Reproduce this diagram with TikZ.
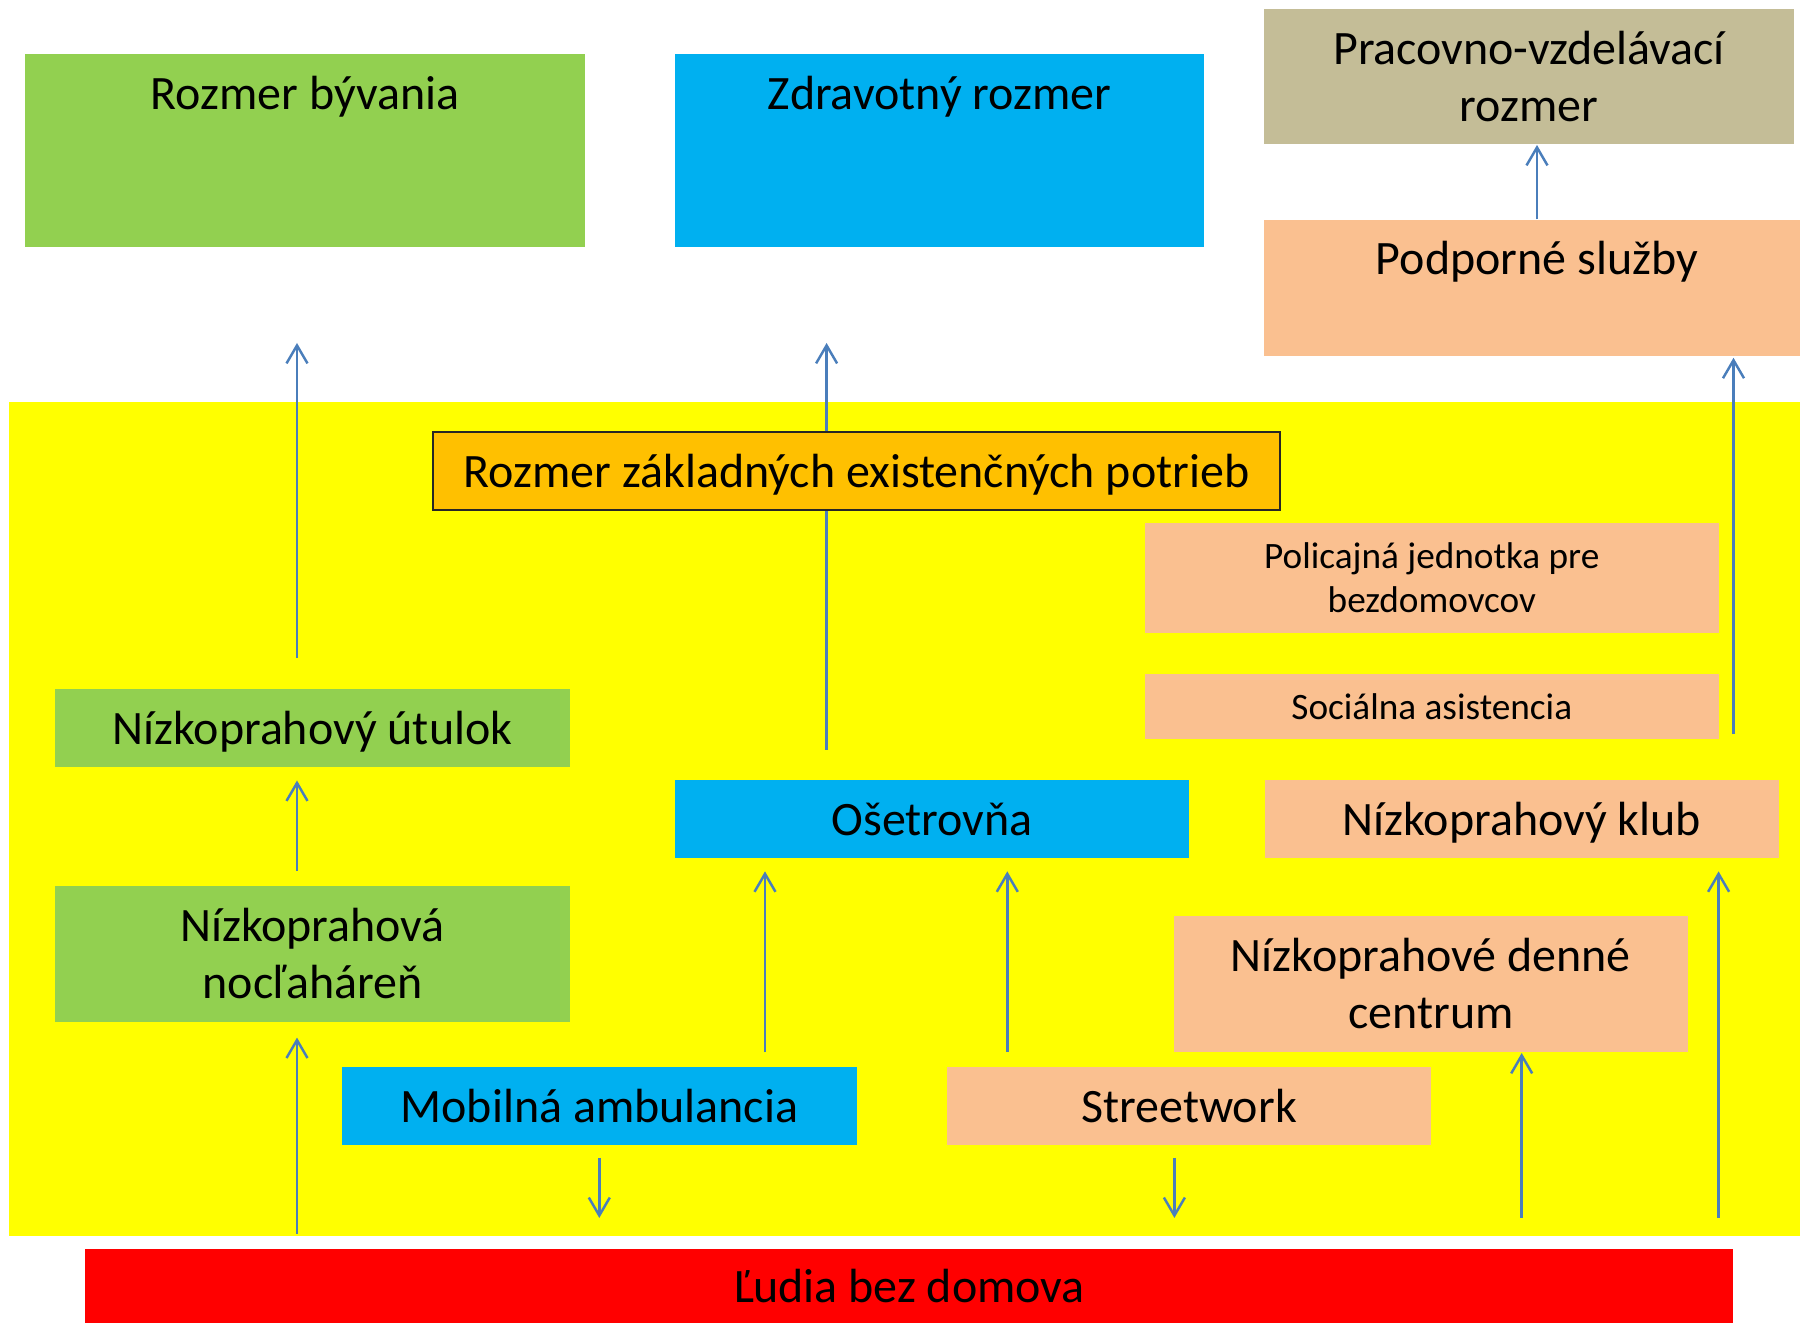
\documentclass[tikz,border=0pt]{standalone}
\usepackage{fontspec}
\setmainfont{Carlito}
\usetikzlibrary{arrows.meta}
\definecolor{grn}{RGB}{146,208,80}
\definecolor{blu}{RGB}{0,176,240}
\definecolor{tan}{RGB}{196,189,151}
\definecolor{peach}{RGB}{250,192,144}
\definecolor{yel}{RGB}{255,255,0}
\definecolor{amber}{RGB}{255,192,0}
\definecolor{rd}{RGB}{255,0,0}
\definecolor{flowblue}{RGB}{74,126,187}
\begin{document}
\begin{tikzpicture}[->,>={Straight Barb[length=1.8mm,width=2.1mm]}]
	\def \toprow{11.723}
	\def \careRow{5.042}
	\def \streetRow{2.172}
	\tikzstyle{g-box}=[rectangle,fill=grn,inner sep=0pt,font=\fontsize{13.65}{16.2}\selectfont]
	\tikzstyle{b-box}=[rectangle,fill=blu,inner sep=0pt,font=\fontsize{13.65}{16.2}\selectfont]
	\tikzstyle{p-box}=[rectangle,fill=peach,inner sep=0pt,font=\fontsize{13.65}{16.2}\selectfont]
	\tikzstyle{p-box-small}=[rectangle,fill=peach,inner sep=0pt,font=\fontsize{10.6}{12.4}\selectfont]
	\tikzstyle{one-line}=[text height=0.48cm,text depth=0.15cm]
	\tikzstyle{one-line-small}=[text height=0.37cm,text depth=0.11cm]
	\tikzstyle{flow}=[color=flowblue,line width=0.7pt]
	\useasboundingbox (0,0) rectangle (18,13.23);
	\fill[yel] (0.09,0.87) rectangle (18,9.21);

	% dimensions
	\node[g-box,minimum width=5.6cm,text height=0.554cm,text depth=1.381cm] 	(byv)	at (3.05,\toprow)	{Rozmer bývania};
	\node[b-box,minimum width=5.29cm,text height=0.554cm,text depth=1.381cm] 	(zdr)	at (9.395,\toprow)	{Zdravotný rozmer};
	\node[rectangle,fill=tan,inner sep=0pt,align=center,font=\fontsize{13.65}{16.2}\selectfont,minimum width=5.3cm,minimum height=1.354cm] 	(prac)	at (15.29,12.464)	{Pracovno-vzdelávací\\rozmer};
	\node[p-box,minimum width=5.46cm,text height=0.544cm,text depth=0.812cm] 	(pod)	at (15.37,10.352)	{Podporné služby};
	\node[rectangle,fill=amber,draw=black!85,line width=0.6pt,inner sep=0pt,font=\fontsize{13.65}{16.2}\selectfont,one-line,minimum width=8.47cm,minimum height=0.777cm] 	(zakl)	at (8.565,8.521)	{Rozmer základných existenčných potrieb};

	% services
	\node[p-box-small,align=center,minimum width=5.745cm,minimum height=1.096cm] 	(pol)	at (14.318,7.452)	{Policajná jednotka pre\\bezdomovcov};
	\node[p-box-small,one-line-small,minimum width=5.745cm,minimum height=0.646cm] 	(soc)	at (14.318,6.167)	{Sociálna asistencia};
	\node[g-box,one-line,minimum width=5.15cm,minimum height=0.776cm] 	(utul)	at (3.125,5.952)	{Nízkoprahový útulok};
	\node[b-box,one-line,minimum width=5.143cm,minimum height=0.775cm] 	(oset)	at (9.322,\careRow)	{Ošetrovňa};
	\node[p-box,one-line,minimum width=5.14cm,minimum height=0.775cm] 	(klub)	at (15.22,\careRow)	{Nízkoprahový klub};
	\node[g-box,align=center,minimum width=5.15cm,minimum height=1.357cm] 	(nocl)	at (3.125,3.693)	{Nízkoprahová\\nocľaháreň};
	\node[p-box,align=center,minimum width=5.142cm,minimum height=1.357cm] 	(denne)	at (14.309,3.393)	{Nízkoprahové denné\\centrum};
	\node[b-box,one-line,minimum width=5.15cm,minimum height=0.776cm] 	(mob)	at (5.995,\streetRow)	{Mobilná ambulancia};
	\node[p-box,one-line,minimum width=4.84cm,minimum height=0.776cm] 	(str)	at (11.89,\streetRow)	{Streetwork};
	\node[rectangle,fill=rd,inner sep=0pt,font=\fontsize{13.65}{16.2}\selectfont,one-line,minimum width=16.48cm,minimum height=0.744cm] 	(lud)	at (9.09,0.372)	{Ľudia bez domova};

	% arrow ends
	\coordinate (byv-in) at (2.97,9.80);
	\coordinate (utul-out) at (2.97,6.65);
	\coordinate (zdr-in) at (8.266,9.80);
	\coordinate (oset-out) at (8.266,5.734);
	\coordinate (pod-in) at (17.335,9.652);
	\coordinate (soc-out) at (17.335,5.889);
	\coordinate (utul-in) at (2.97,5.425);
	\coordinate (nocl-out) at (2.97,4.524);
	\coordinate (nocl-in) at (2.97,2.854);
	\coordinate (lud-up1) at (2.97,0.89);
	\coordinate (oset-in1) at (7.65,4.516);
	\coordinate (mob-up) at (7.65,2.706);
	\coordinate (oset-in2) at (10.073,4.516);
	\coordinate (str-up) at (10.073,2.71);
	\coordinate (klub-in) at (17.186,4.516);
	\coordinate (lud-up2) at (17.186,1.05);
	\coordinate (denne-in) at (15.217,2.70);
	\coordinate (lud-up3) at (15.217,1.05);
	\coordinate (mob-down) at (5.993,1.65);
	\coordinate (lud-in1) at (5.993,1.05);
	\coordinate (str-down) at (11.744,1.65);
	\coordinate (lud-in2) at (11.744,1.05);

	\path[flow]
		(utul-out)	edge	(byv-in)
		(oset-out)	edge[-]	(zakl.south -| oset-out)
		(zakl.north -| zdr-in)	edge	(zdr-in)
		(pod.north)	edge	(prac.south -| pod.north)
		(soc-out)	edge	(pod-in)
		(nocl-out)	edge	(utul-in)
		(lud-up1)	edge	(nocl-in)
		(mob-up)	edge	(oset-in1)
		(str-up)	edge	(oset-in2)
		(lud-up2)	edge	(klub-in)
		(lud-up3)	edge	(denne-in)
		(mob-down)	edge	(lud-in1)
		(str-down)	edge	(lud-in2);
\end{tikzpicture}
\end{document}
